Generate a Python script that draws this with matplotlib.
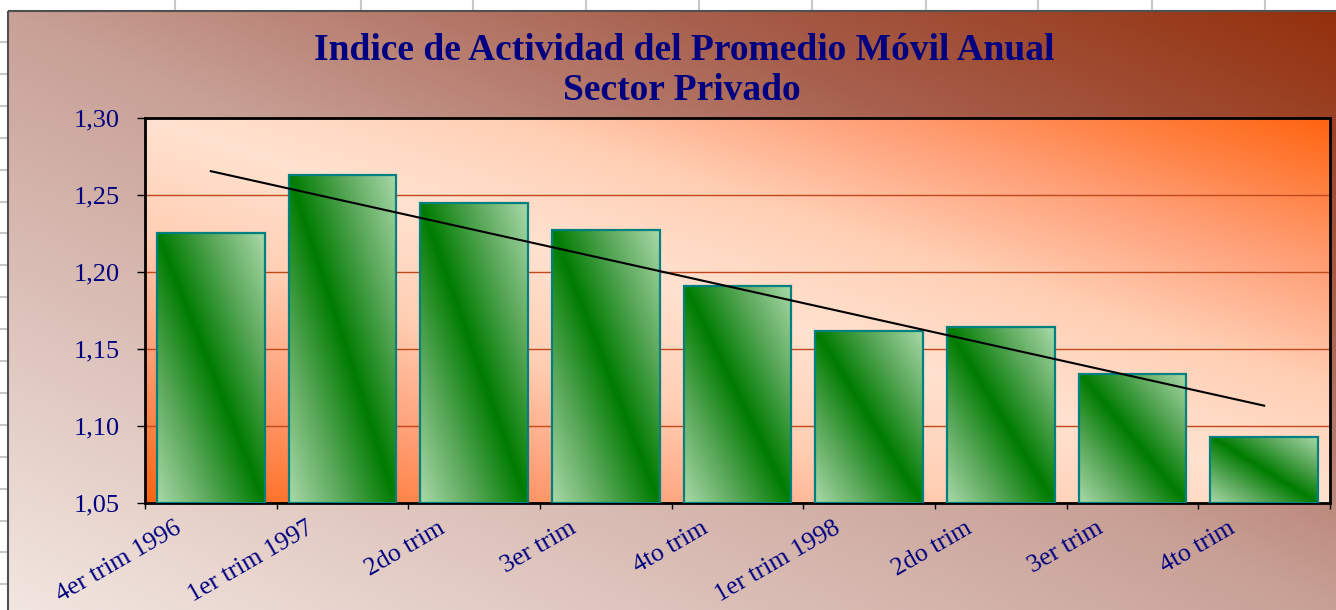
import numpy as np
import matplotlib
matplotlib.use("Agg")
import matplotlib.pyplot as plt
from matplotlib.colors import LinearSegmentedColormap
from matplotlib.patches import Rectangle
from matplotlib.transforms import ScaledTranslation

# data
categories = ["4er trim 1996", "1er trim 1997", "2do trim", "3er trim", "4to trim",
              "1er trim 1998", "2do trim", "3er trim", "4to trim"]
values = [1.225, 1.263, 1.245, 1.227, 1.191, 1.162, 1.164, 1.134, 1.093]
y_ticks = [1.05, 1.10, 1.15, 1.20, 1.25, 1.30]
title_lines = ["Indice de Actividad del Promedio Móvil Anual", "Sector Privado"]

NAVY = "#000080"
SERIF = ["Liberation Serif", "DejaVu Serif"]

W, H = 1336, 610
fig = plt.figure(figsize=(W / 100, H / 100), dpi=100)

# spreadsheet + chart area background (pixel coords)
bg = fig.add_axes([0, 0, 1, 1])
bg.set_xlim(0, W)
bg.set_ylim(H, 0)
bg.axis("off")
for xv in [175, 361, 473, 586, 699, 812, 926, 1038, 1152, 1265]:
    bg.plot([xv, xv], [0, 11], color="#c8c8c8", lw=1.5)
for yv in np.arange(42, 600, 31.9):
    bg.plot([0, 8], [yv, yv], color="#c8c8c8", lw=1.5)

outer_cmap = LinearSegmentedColormap.from_list(
    "outer", [(0, "#f2e6e0"), (0.5, "#c8a096"), (0.75, "#a8604e"), (1, "#94300c")])
nx, ny = 400, 200
u = np.linspace(0, 1, nx)[None, :]
v = np.linspace(1, 0, ny)[:, None]
bg.imshow((u + v) / 2, extent=(8, W, H, 11), cmap=outer_cmap, aspect="auto",
          vmin=0, vmax=1, zorder=1)
bg.add_patch(Rectangle((8, 11), W, H, fill=False, edgecolor="#505050", lw=1.5, zorder=2))

# plot area
ax = fig.add_axes([145 / W, 1 - 503 / H, 1185 / W, 385 / H])
ax.set_zorder(2)
ax.patch.set_alpha(0)

plot_cmap = LinearSegmentedColormap.from_list(
    "plot", [(0, "#ffe2d0"), (0.3, "#ffcfb4"), (0.6, "#ffa078"), (1, "#ff6410")])
u = np.linspace(0, 1, nx)[None, :]
v = np.linspace(0, 1, ny)[:, None]
ax.imshow(np.abs(u + v - 1), extent=(0, 1, 0, 1), transform=ax.transAxes,
          origin="lower", cmap=plot_cmap, aspect="auto", vmin=0, vmax=1, zorder=0)

x = np.arange(len(values))
base = y_ticks[0]
bar_cmap = LinearSegmentedColormap.from_list("bar", ["#007c00", "#5aa85a", "#a8d8a8"])
bars = ax.bar(x, np.array(values) - base, bottom=base, width=0.82,
              facecolor="none", edgecolor="#008080", lw=1.6, zorder=3)
gu = np.linspace(0, 1, 60)[None, :]
gv = np.linspace(0, 1, 120)[:, None]
grad = np.abs(gu + gv - 1)
for b in bars:
    x0, y0 = b.get_x(), b.get_y()
    ax.imshow(grad, extent=(x0, x0 + b.get_width(), y0, y0 + b.get_height()),
              origin="lower", cmap=bar_cmap, aspect="auto", vmin=0, vmax=1, zorder=2)

# linear trend line
slope, icpt = np.polyfit(x, values, 1)
ax.plot([x[0], x[-1]], [icpt + slope * x[0], icpt + slope * x[-1]],
        color="black", lw=1.5, zorder=4)

ax.set_xlim(-0.5, len(values) - 0.5)
ax.set_ylim(y_ticks[0], y_ticks[-1])
ax.set_axisbelow(True)
ax.yaxis.grid(True, color="#c0481a", lw=1.0)

ax.set_yticks(y_ticks)
ax.set_yticklabels([f"{t:.2f}".replace(".", ",") for t in y_ticks],
                   family=SERIF, fontsize=19, color=NAVY)
ax.tick_params(axis="y", direction="out", length=6, width=1, pad=12)

ax.set_xticks(x)
ax.set_xticklabels(categories, family=SERIF, fontsize=18.5, color=NAVY,
                   rotation=30, rotation_mode="anchor", ha="right", va="center")
ax.tick_params(axis="x", which="major", length=0, pad=17)
ax.set_xticks(np.arange(len(values) + 1) - 0.5, minor=True)
ax.tick_params(axis="x", which="minor", direction="out", length=4, width=1)
shift = ScaledTranslation(-0.31, 0, fig.dpi_scale_trans)
for lab in ax.get_xticklabels():
    lab.set_transform(lab.get_transform() + shift)

for s in ax.spines.values():
    s.set_color("black")
    s.set_linewidth(2)

fig.text(0.512, 1 - 60 / H, title_lines[0], family=SERIF, fontweight="bold",
         fontsize=27, color=NAVY, ha="center", va="baseline")
fig.text(0.51, 1 - 100 / H, title_lines[1], family=SERIF, fontweight="bold",
         fontsize=27, color=NAVY, ha="center", va="baseline")

fig.savefig("out.png", dpi=100)
